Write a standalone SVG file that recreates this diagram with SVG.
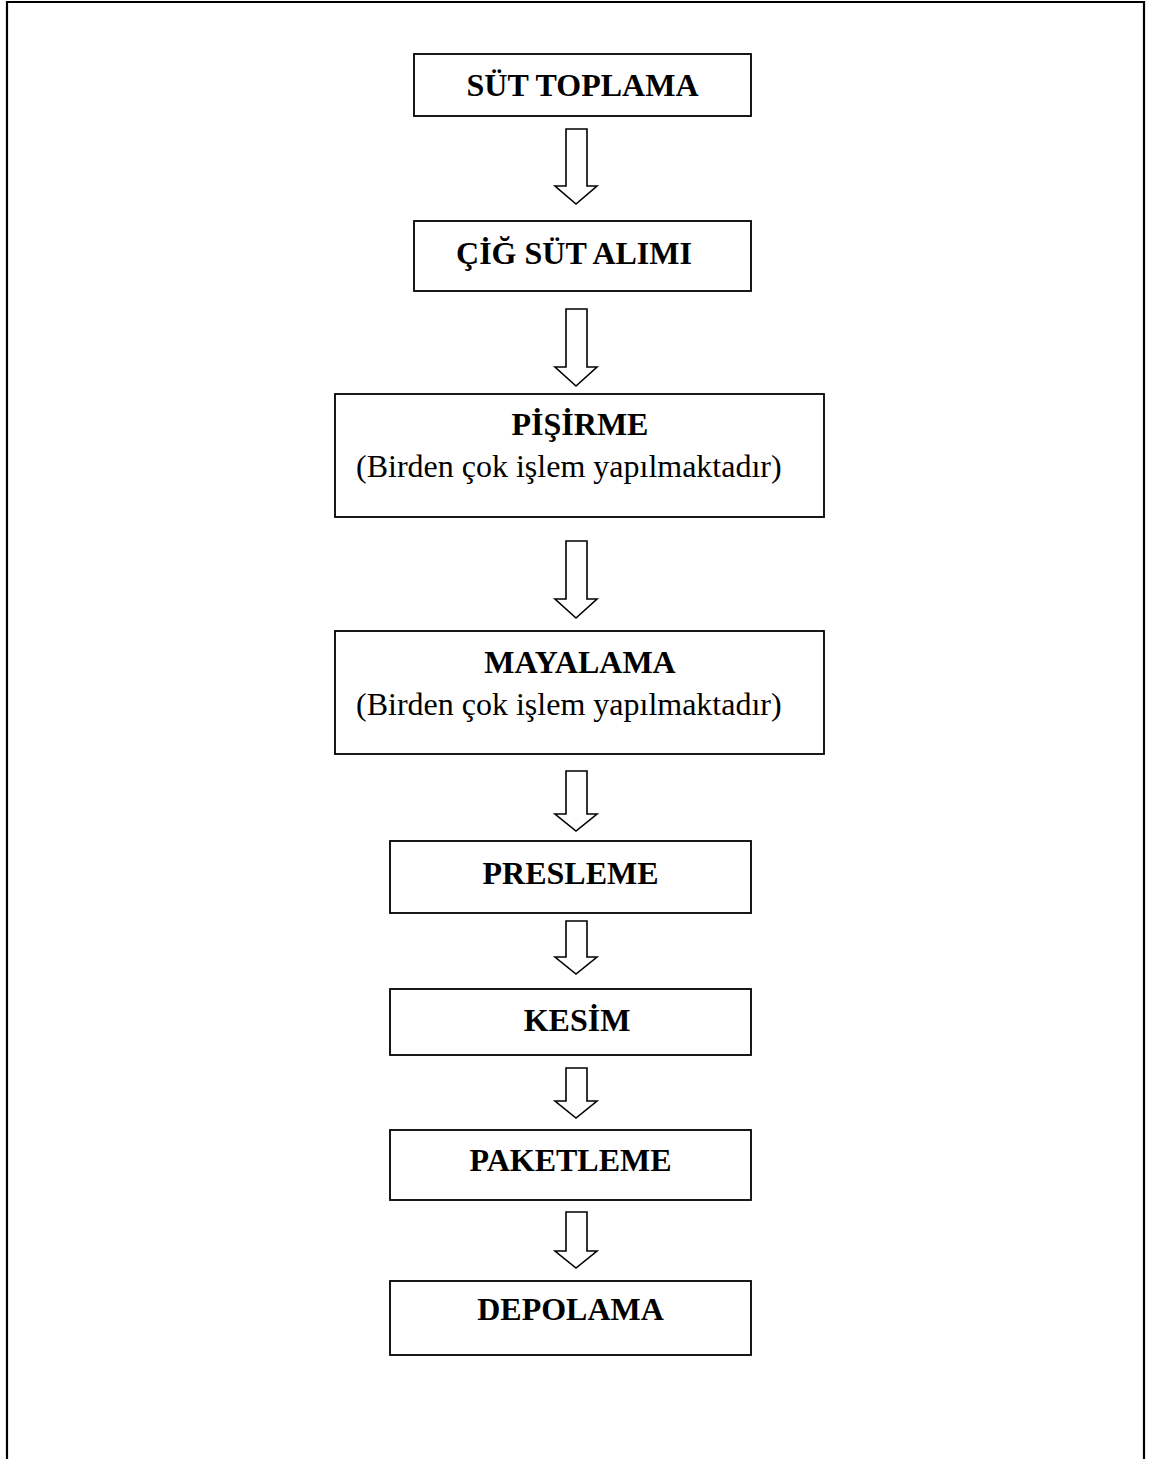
<svg xmlns="http://www.w3.org/2000/svg" width="1152" height="1459" viewBox="0 0 1152 1459">
  <style>
    .box { fill: #ffffff; stroke: #000000; stroke-width: 1.8; }
    .arrow { fill: #ffffff; stroke: #000000; stroke-width: 1.6; stroke-linejoin: miter; }
    .frame { fill: none; stroke: #000000; stroke-width: 2.2; }
    .title { font-family: "Liberation Serif", "Times New Roman", serif; font-size: 32px; font-weight: bold; fill: #000000; text-anchor: middle; }
    .sub { font-family: "Liberation Serif", "Times New Roman", serif; font-size: 32px; fill: #000000; }
  </style>

  <!-- page frame, open at the bottom -->
  <path class="frame" d="M7,1459 V2 H1144 V1459"/>

  <!-- block arrows between the steps -->
  <g id="connectors">
    <polygon class="arrow" points="566,129 587,129 587,186 597,186 576,204 555,186 566,186"/>
    <polygon class="arrow" points="566,309 587,309 587,367 597,367 576,386 555,367 566,367"/>
    <polygon class="arrow" points="566,541 587,541 587,599 597,599 576,618 555,599 566,599"/>
    <polygon class="arrow" points="566,771 587,771 587,814 597,814 576,831 555,814 566,814"/>
    <polygon class="arrow" points="566,921 587,921 587,957 597,957 576,974 555,957 566,957"/>
    <polygon class="arrow" points="566,1068 587,1068 587,1101 597,1101 576,1118 555,1101 566,1101"/>
    <polygon class="arrow" points="566,1212 587,1212 587,1251 597,1251 576,1268 555,1251 566,1251"/>
  </g>

  <g id="sut-toplama">
    <rect class="box" x="414" y="54" width="337" height="62"/>
    <text class="title" x="582.5" y="96">SÜT TOPLAMA</text>
  </g>

  <g id="cig-sut-alimi">
    <rect class="box" x="414" y="221" width="337" height="70"/>
    <text class="title" x="574" y="264">ÇİĞ SÜT ALIMI</text>
  </g>

  <g id="pisirme">
    <rect class="box" x="335" y="394" width="489" height="123"/>
    <text class="title" x="580" y="435">PİŞİRME</text>
    <text class="sub" x="356" y="477">(Birden çok işlem yapılmaktadır)</text>
  </g>

  <g id="mayalama">
    <rect class="box" x="335" y="631" width="489" height="123"/>
    <text class="title" x="580" y="673">MAYALAMA</text>
    <text class="sub" x="356" y="715">(Birden çok işlem yapılmaktadır)</text>
  </g>

  <g id="presleme">
    <rect class="box" x="390" y="841" width="361" height="72"/>
    <text class="title" x="570.5" y="884">PRESLEME</text>
  </g>

  <g id="kesim">
    <rect class="box" x="390" y="989" width="361" height="66"/>
    <text class="title" x="577" y="1031">KESİM</text>
  </g>

  <g id="paketleme">
    <rect class="box" x="390" y="1130" width="361" height="70"/>
    <text class="title" x="570.5" y="1171">PAKETLEME</text>
  </g>

  <g id="depolama">
    <rect class="box" x="390" y="1281" width="361" height="74"/>
    <text class="title" x="570.5" y="1320">DEPOLAMA</text>
  </g>
</svg>
